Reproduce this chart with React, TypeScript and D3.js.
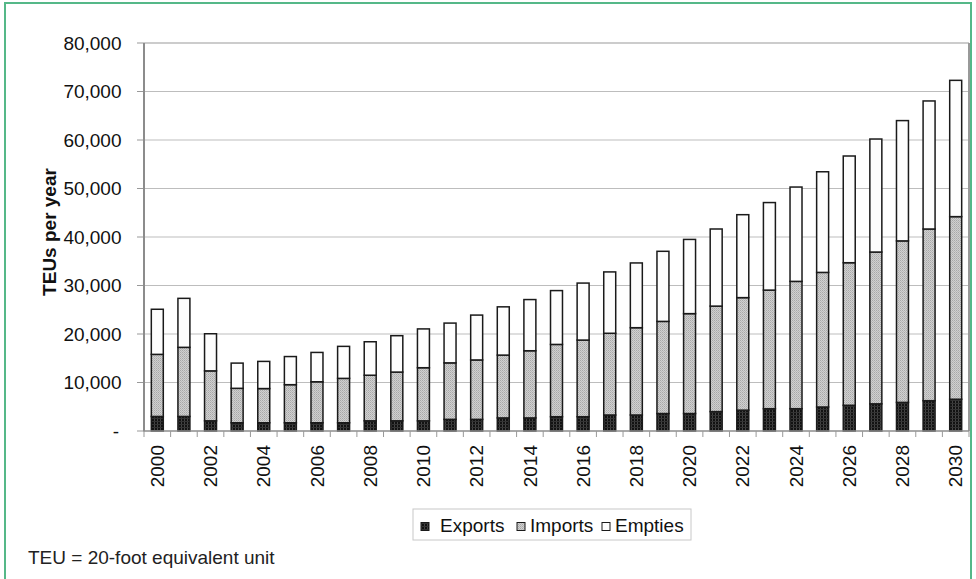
import React from "react";
import * as d3 from "d3";

const years = [
  "2000","2001","2002","2003","2004","2005","2006","2007","2008","2009","2010",
  "2011","2012","2013","2014","2015","2016","2017","2018","2019","2020",
  "2021","2022","2023","2024","2025","2026","2027","2028","2029","2030",
];
const exportsTEU = [
  3000, 3000, 2100, 1700, 1700, 1700, 1700, 1700, 2100, 2100, 2100,
  2400, 2400, 2700, 2700, 2950, 2950, 3300, 3300, 3600, 3600,
  4000, 4300, 4600, 4600, 4950, 5300, 5600, 5900, 6250, 6550,
];
const importsTEU = [
  12800, 14250, 10300, 7100, 7050, 7850, 8450, 9150, 9400, 10050, 10950,
  11650, 12250, 12950, 13850, 14900, 15800, 16850, 18000, 19000, 20600,
  21750, 23200, 24450, 26250, 27750, 29400, 31300, 33300, 35400, 37650,
];
const emptiesTEU = [
  9300, 10100, 7650, 5200, 5600, 5800, 6050, 6600, 6900, 7500, 8000,
  8200, 9250, 9950, 10550, 11100, 11750, 12650, 13350, 14450, 15300,
  15900, 17100, 18050, 19450, 20750, 22000, 23300, 24800, 26400, 28100,
];
const seriesNames = ["Exports", "Imports", "Empties"];
const yTicks = [0, 10000, 20000, 30000, 40000, 50000, 60000, 70000, 80000];
const yTitle = "TEUs per year";
const footNote = "TEU = 20-foot equivalent unit";

const FONT = "'Liberation Sans', Arial, Helvetica, sans-serif";
const fills = ["url(#pExp)", "url(#pImp)", "#fdfdfd"];

export default function App() {
  const W = 976, H = 579;
  const left = 144, right = 969, top = 43, bottom = 431;

  const x = d3.scaleBand<string>().domain(years).range([left, right])
    .paddingInner(0.55).paddingOuter(0.275);
  const y = d3.scaleLinear().domain([0, 80000]).range([bottom, top]);

  const table = years.map((yr, i) => ({
    year: yr, Exports: exportsTEU[i], Imports: importsTEU[i], Empties: emptiesTEU[i],
  }));
  const stacked = d3.stack<any>().keys(seriesNames)(table);
  const step = x.step();
  const fmt = (v: number) => (v === 0 ? "-" : d3.format(",")(v));

  const legendItems = [
    { sx: 421, tx: 440 },
    { sx: 517, tx: 530 },
    { sx: 602, tx: 615 },
  ];

  return (
    <div style={{ position: "absolute", left: 0, top: 0 }}>
      <svg width={W} height={H} style={{ display: "block", background: "#fff" }}>
        <defs>
          <pattern id="pExp" width="3" height="3" patternUnits="userSpaceOnUse">
            <rect width="3" height="3" fill="#121212" />
            <rect x="1" y="0" width="1" height="3" fill="#444" />
            <rect x="0" y="1" width="3" height="1" fill="#333" />
          </pattern>
          <pattern id="pImp" width="2" height="2" patternUnits="userSpaceOnUse">
            <rect width="2" height="2" fill="#d0d0d0" />
            <rect x="0" y="0" width="1" height="1" fill="#a8a8a8" />
            <rect x="1" y="1" width="1" height="1" fill="#b8b8b8" />
          </pattern>
        </defs>

        {/* outer frame */}
        <rect x={5} y={3} width={966} height={600} fill="none" stroke="#55b888" strokeWidth={2} />

        {/* gridlines */}
        {yTicks.filter((t) => t > 0).map((t) => (
          <line key={"g" + t} x1={left} x2={right} y1={y(t)} y2={y(t)}
            stroke={t === 80000 ? "#999" : "#bdbdbd"} strokeWidth={1} />
        ))}
        {/* right border */}
        <line x1={right} x2={right} y1={top} y2={bottom} stroke="#999" strokeWidth={2} />

        {/* y ticks and labels */}
        {yTicks.map((t) => (
          <g key={"t" + t}>
            <line x1={137} x2={left} y1={y(t)} y2={y(t)} stroke="#999" strokeWidth={1} />
            <text x={t === 0 ? 119 : 121.5} y={y(t)} dy="0.35em" textAnchor="end"
              fontFamily={FONT} fontSize={19} fill="#111">{fmt(t)}</text>
          </g>
        ))}

        {/* bars */}
        {stacked.map((s, si) => (
          <g key={s.key}>
            {s.map((d, i) => (
              <rect key={i} x={x(years[i])} width={x.bandwidth()}
                y={y(d[1])} height={y(d[0]) - y(d[1])}
                fill={fills[si]} stroke="#1a1a1a" strokeWidth={1.5} />
            ))}
          </g>
        ))}

        {/* axes lines */}
        <line x1={left} x2={left} y1={top} y2={bottom + 0.5} stroke="#8c8c8c" strokeWidth={2} />
        <line x1={left} x2={right} y1={bottom} y2={bottom} stroke="#8c8c8c" strokeWidth={1.5} />
        {years.map((yr, i) => (
          <line key={"xt" + yr} x1={left + i * step} x2={left + i * step}
            y1={bottom} y2={bottom + 6} stroke="#999" strokeWidth={1} />
        ))}
        <line x1={right} x2={right} y1={bottom} y2={bottom + 6} stroke="#999" strokeWidth={1} />

        {/* x labels */}
        {years.filter((_, i) => i % 2 === 0).map((yr) => {
          const cx = (x(yr) as number) + x.bandwidth() / 2;
          return (
            <text key={"xl" + yr} transform={`translate(${cx},${445}) rotate(-90)`}
              dy="0.35em" textAnchor="end" fontFamily={FONT} fontSize={19} fill="#111">{yr}</text>
          );
        })}

        {/* y title */}
        <text transform={`translate(56,${232}) rotate(-90)`} textAnchor="middle"
          fontFamily={FONT} fontSize={19} fontWeight="bold" fill="#111">{yTitle}</text>

        {/* legend */}
        <rect x={413} y={509} width={278} height={31} fill="#fff" stroke="#c8c8c8" strokeWidth={1} />
        {seriesNames.map((n, i) => (
          <g key={"lg" + n}>
            <rect x={legendItems[i].sx} y={522.5} width={8} height={8}
              fill={fills[i]} stroke="#1a1a1a" strokeWidth={1} />
            <text x={legendItems[i].tx} y={532} fontFamily={FONT} fontSize={19} fill="#111">{n}</text>
          </g>
        ))}

        {/* footnote */}
        <text x={28} y={564} fontFamily={FONT} fontSize={19} fill="#222">{footNote}</text>
      </svg>
    </div>
  );
}
